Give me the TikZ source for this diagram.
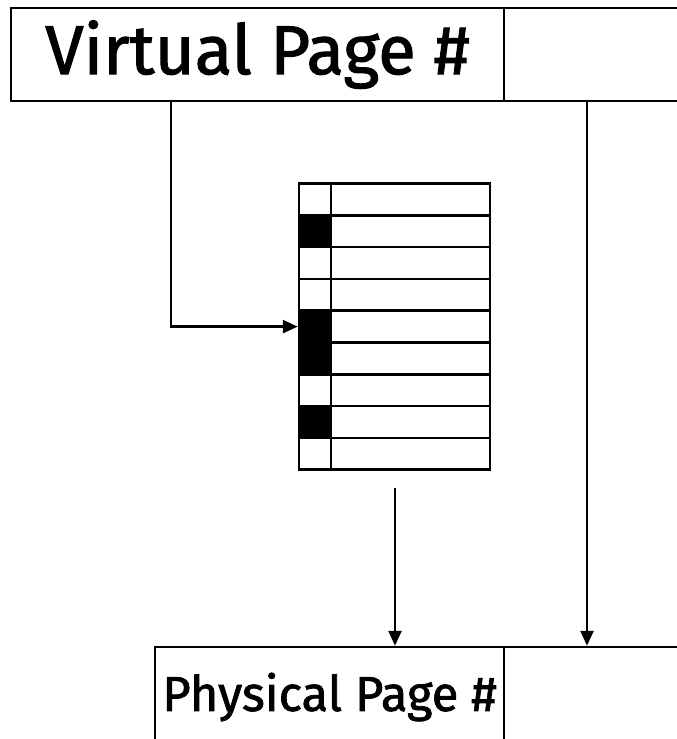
\documentclass[tikz,border=0pt]{standalone}
\usepackage{fontspec}
\setmainfont{Fira Sans}
\newfontfamily\labelfont{Fira Sans}[FakeBold=1.5]
\usetikzlibrary{arrows.meta}

\begin{document}
\begin{tikzpicture}[
            x=1pt, y=-1pt,
            addrBox/.style={rectangle, draw=black, line width=2.5pt, inner sep=0pt,
            minimum height=93pt, align=center, font=\labelfont\fontsize{69}{71}\selectfont},
            physBox/.style={addrBox, minimum height=100pt, font=\labelfont\fontsize{49}{51}\selectfont},
            validCell/.style={rectangle, draw=black, line width=2.5pt, inner sep=0pt,
            minimum width=32pt, minimum height=31.8pt},
            frameCell/.style={validCell, minimum width=159pt},
            arrow/.style={line width=2.5pt, ->, >={Triangle[length=15pt,width=13pt]}},
        ]
        \path[use as bounding box, clip] (0,0) rectangle (677,739);
        % virtual address
        \node[addrBox, minimum width=493pt] (vpnBox)    at (257.5,54.5) {Virtual Page \#};
        \node[addrBox, minimum width=200pt] (offsetBox) at (604,54.5)   {};
        % page table
        \foreach \i/\bit in {1/white,2/black,3/white,4/white,5/black,6/black,7/white,8/black,9/white} {
            \node[validCell, fill=\bit] (valid\i) at (315,{199.4+(\i-1)*31.8}) {};
            \node[frameCell] (frame\i) at (410.5,{199.4+(\i-1)*31.8}) {};
        }
        % physical address
        \node[physBox, minimum width=349pt] (ppnBox)       at (329.5,697) {Physical Page \#};
        \node[physBox, minimum width=200pt] (ppnOffsetBox) at (604,697)   {};
        \coordinate (vpnTap)   at (171,0);
        \coordinate (tableOut) at (395,488);
        \coordinate (offTap)   at (587,0);
        \draw[arrow] (vpnBox.south -| vpnTap) |- (valid5.west);
        \draw[arrow] (tableOut) -- (tableOut |- ppnBox.north);
        \draw[arrow] (offsetBox.south -| offTap) -- (ppnOffsetBox.north -| offTap);
    \end{tikzpicture}
\end{document}
